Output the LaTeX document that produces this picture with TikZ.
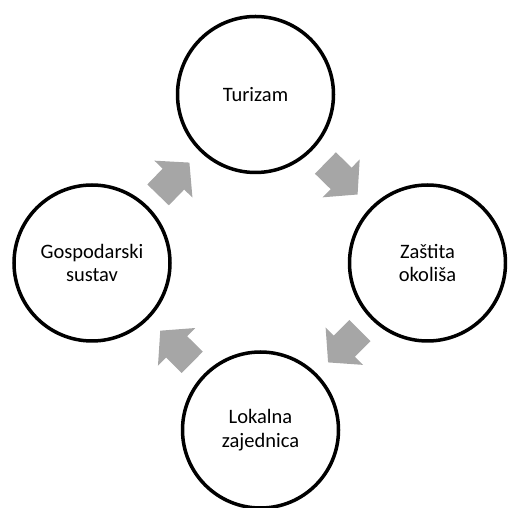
\documentclass[tikz,border=0pt]{standalone}
\usepackage{fontspec}
\setmainfont{Carlito}
\usetikzlibrary{calc}
\definecolor{arrowgray}{RGB}{166,166,166}
\tikzset{
  bubble/.style={circle, draw=black, line width=3.5pt, minimum size=156pt, inner sep=0pt,
    align=center, font=\fontsize{20.5}{23.3}\selectfont},
  blockarrow/.style={fill=arrowgray, draw=none}
}
\begin{document}
\begin{tikzpicture}[x=1pt,y=1pt]
\useasboundingbox (0,0) rectangle (507,508);
\clip (0,0) rectangle (507,508);
\node[bubble] (top) at (255.5,413.5) {Turizam};
\node[bubble] (right) at (427.5,245) {Zaštita\\okoliša};
\node[bubble] (bottom) at (260.5,78) {Lokalna\\zajednica};
\node[bubble] (left) at (92,245) {Gospodarski\\sustav};
\coordinate (m1) at ($(top.center)!0.5!(right.center)$);
\coordinate (m2) at ($(right.center)!0.5!(bottom.center)$);
\coordinate (m3) at ($(bottom.center)!0.5!(left.center)$);
\coordinate (m4) at ($(left.center)!0.5!(top.center)$);
\foreach \m/\a in {m1/-44.4, m2/-135, m3/135.3, m4/45.9}{
  \fill[blockarrow, shift={(\m)}, rotate=\a]
    (-22.5,-15) -- (-0.5,-15) -- (-0.5,-26.5) -- (22.5,0) -- (-0.5,26.5) -- (-0.5,15) -- (-22.5,15) -- cycle;
}
\end{tikzpicture}
\end{document}
